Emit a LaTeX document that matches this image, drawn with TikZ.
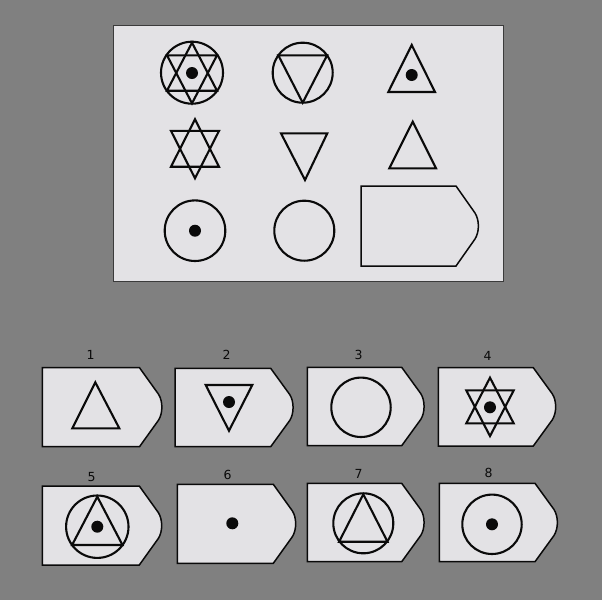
\documentclass[tikz,border=0pt]{standalone}
\usepackage{fontspec}
\setmainfont{DejaVu Sans}
\definecolor{bg}{RGB}{128,128,128}
\definecolor{card}{RGB}{227,226,229}
\definecolor{ink}{RGB}{10,10,10}
\tikzset{
  fig/.style={draw=ink, line width=2.1pt, line join=miter},
  cardline/.style={draw=ink, fill=card, line width=1.5pt, line join=miter},
  dotmark/.style={fill=ink, draw=none},
  lbl/.style={font=\fontsize{12.5}{14}\selectfont, text=ink, inner sep=0pt}
}
% tag-shaped card: left, top, corner x, bottom
\newcommand{\tagshape}[4]{%
  \pgfmathsetmacro\tm{(#2+#4)/2}%
  \draw[cardline] (#1,#2) -- (#3,#2) -- ({#3+19},{\tm-13})
    .. controls ({#3+23.5},{\tm-6}) and ({#3+23.5},{\tm+6}) .. ({#3+19},{\tm+13})
    -- (#3,#4) -- (#1,#4) -- cycle;}
% six-pointed star: cx, cy, half width, apex distance, base distance
\newcommand{\sixstar}[5]{%
  \draw[fig] (#1,{#2-#4}) -- ({#1-#3},{#2+#5}) -- ({#1+#3},{#2+#5}) -- cycle;
  \draw[fig] (#1,{#2+#4}) -- ({#1-#3},{#2-#5}) -- ({#1+#3},{#2-#5}) -- cycle;}
\newcommand{\bigdot}[2]{\fill[dotmark] (#1,#2) circle[radius=6];}
\begin{document}
\begin{tikzpicture}[x=1pt,y=-1pt]
\fill[bg] (0,0) rectangle (602,600);
\useasboundingbox (0,0) rectangle (602,600);

% main panel
\draw[fill=card, draw=ink!80, line width=1pt] (113,25) rectangle (503,281);

% row 1
\draw[fig] (192,72.7) circle[radius=31];
\sixstar{192}{73}{25}{30.3}{17.7}
\bigdot{192}{73}
\draw[fig] (302.7,72.7) circle[radius=30];
\draw[fig] (278.3,55.3) -- (327.1,55.3) -- (302.7,102.7) -- cycle;
\draw[fig] (411.7,45) -- (435,92) -- (388.3,92) -- cycle;
\bigdot{411.7}{75}

% row 2
\sixstar{195}{148.8}{24}{29.5}{17.9}
\draw[fig] (281,133.3) -- (327.3,133.3) -- (305,180) -- cycle;
\draw[fig] (412.7,121.7) -- (436,168.3) -- (389.3,168.3) -- cycle;

% row 3
\draw[fig] (195,230.7) circle[radius=30.3];
\bigdot{195}{230.7}
\draw[fig] (304.3,230.7) circle[radius=30];
\tagshape{361}{186}{456}{266}

% answer cards
\tagshape{42.3}{367.7}{139.5}{446.7}
\tagshape{175}{368.3}{270.7}{446.7}
\tagshape{307.3}{367.3}{401.7}{445.7}
\tagshape{438.3}{367.7}{533.3}{446}
\tagshape{42.3}{486}{139.3}{565}
\tagshape{177.3}{484.3}{273.3}{563.3}
\tagshape{307.3}{483.3}{401.7}{561.7}
\tagshape{439.3}{483.3}{535}{561.7}

% labels
\node[lbl] (l1) at (90.7,355) {1};
\node[lbl] (l2) at (226.7,355) {2};
\node[lbl] (l3) at (358.7,355) {3};
\node[lbl] (l4) at (487.7,356) {4};
\node[lbl] (l5) at (91.7,476.7) {5};
\node[lbl] (l6) at (227.7,475) {6};
\node[lbl] (l7) at (358.7,474.3) {7};
\node[lbl] (l8) at (488.7,473.3) {8};

% card contents
% 1
\draw[fig] (95.3,382.3) -- (119.3,428.3) -- (72.3,428.3) -- cycle;
% 2
\draw[fig] (205.7,385) -- (252.3,385) -- (229,430.7) -- cycle;
\bigdot{229}{402}
% 3
\draw[fig] (361,407.3) circle[radius=29.7];
% 4
\sixstar{490}{406.9}{23.7}{29.2}{16.5}
\bigdot{490}{407.3}
% 5
\draw[fig] (97.3,526.7) circle[radius=31.2];
\draw[fig] (97.3,496.7) -- (122.5,545) -- (72.1,545) -- cycle;
\bigdot{97.3}{526.7}
% 6
\bigdot{232.3}{523.3}
% 7
\draw[fig] (363.3,523.3) circle[radius=30];
\draw[fig] (363.3,494.3) -- (387.5,541.7) -- (339.1,541.7) -- cycle;
% 8
\draw[fig] (492,524.3) circle[radius=29.7];
\bigdot{492}{524.3}
\end{tikzpicture}
\end{document}
